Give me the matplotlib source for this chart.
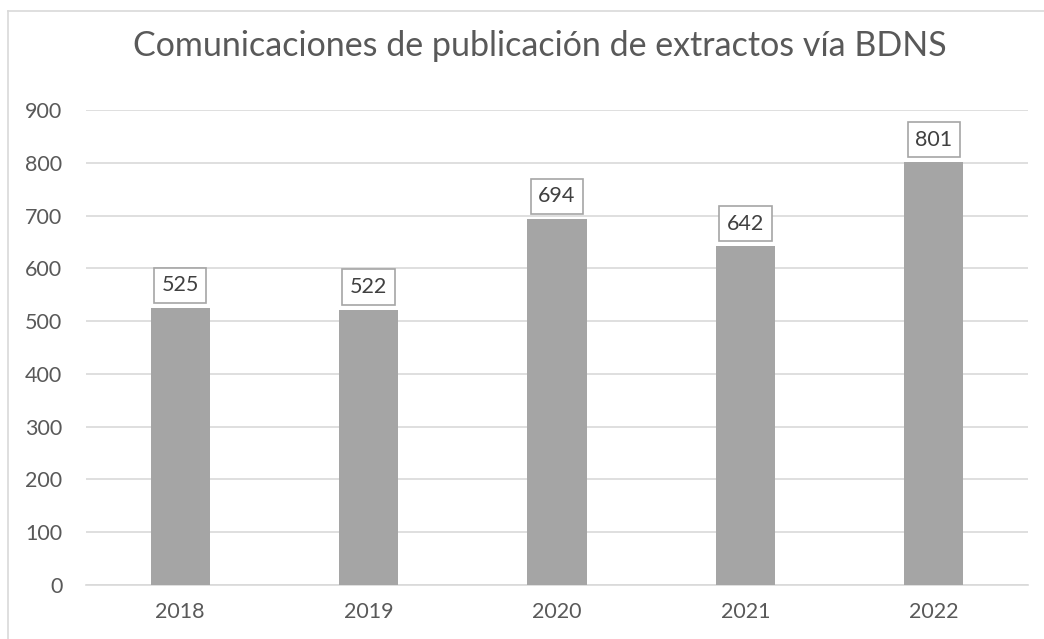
import matplotlib
matplotlib.use('Agg')
import matplotlib.pyplot as plt
from matplotlib.lines import Line2D

years = ['2018', '2019', '2020', '2021', '2022']
counts = [525, 522, 694, 642, 801]
yticks = [0, 100, 200, 300, 400, 500, 600, 700, 800, 900]
title = 'Comunicaciones de publicación de extractos vía BDNS'

plt.rcParams['font.family'] = ['Lato', 'DejaVu Sans']
txt = '#595959'

fig = plt.figure(figsize=(10.44, 6.39), dpi=100)
ax = fig.add_axes([86 / 1044, 1 - 585 / 639, (1028 - 86) / 1044, (585 - 110) / 639])

x = range(len(years))
ax.bar(x, counts, width=0.315, color='#A5A5A5', zorder=3)

ax.set_xlim(-0.5, len(years) - 0.5)
ax.set_ylim(0, 900)
ax.set_yticks(yticks)
ax.set_xticks(list(x))
ax.set_xticklabels(years)
ax.grid(axis='y', color='#D9D9D9', lw=1.2, zorder=0)
for s in ['top', 'right', 'left']:
    ax.spines[s].set_visible(False)
ax.spines['bottom'].set_color('#D9D9D9')
ax.spines['bottom'].set_linewidth(1.2)
ax.tick_params(length=0, labelsize=15.5, colors=txt)
ax.tick_params(axis='y', pad=17)
ax.tick_params(axis='x', pad=12)

for xi, v in zip(x, counts):
    ax.annotate(str(v), (xi, v), xytext=(0, 9), textcoords='offset points',
                ha='center', va='bottom', fontsize=15.5, color='#404040',
                bbox=dict(boxstyle='square,pad=0.35', fc='white', ec='#A5A5A5', lw=1.2),
                zorder=5)

fig.text(0.517, 1 - 46 / 639, title, ha='center', va='center', fontsize=24.5, color=txt)

# chart outline (top and left edges visible)
fig.add_artist(Line2D([8 / 1044, 8 / 1044], [0, 1 - 11 / 639], color='#D9D9D9', lw=1.2))
fig.add_artist(Line2D([8 / 1044, 1], [1 - 11 / 639, 1 - 11 / 639], color='#D9D9D9', lw=1.2))

fig.savefig('out.png', dpi=100)
